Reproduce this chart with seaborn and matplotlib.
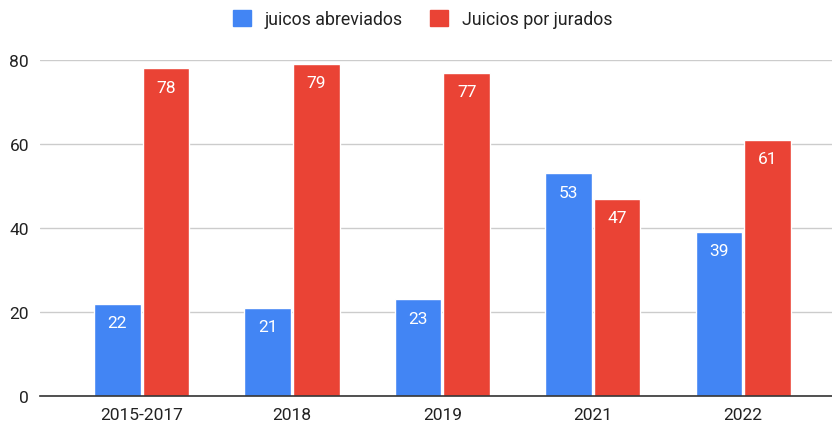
import numpy as np
import pandas as pd
import matplotlib
matplotlib.use("Agg")
import matplotlib.pyplot as plt
import seaborn as sns

# data
years = ["2015-2017", "2018", "2019", "2021", "2022"]
abreviados = [22, 21, 23, 53, 39]
jurados = [78, 79, 77, 47, 61]
series_names = ["juicos abreviados", "Juicios por jurados"]
colors = ["#4285F4", "#EA4335"]

df = pd.DataFrame({
    "year": years * 2,
    "value": abreviados + jurados,
    "serie": [series_names[0]] * len(years) + [series_names[1]] * len(years),
})

sns.set_style("white")
plt.rcParams["font.family"] = ["Roboto", "DejaVu Sans"]

fig = plt.figure(figsize=(8.32, 4.27), dpi=100)
ax = fig.add_axes([40 / 832, 1 - 397 / 427, 792 / 832, 336 / 427])

sns.barplot(data=df, x="year", y="value", hue="serie", palette=colors,
            width=0.645, gap=0.04, saturation=1, ax=ax, legend=False)

# white value labels inside the top of each bar
for cont in ax.containers:
    for rect in cont:
        h = rect.get_height()
        ax.annotate(f"{h:.0f}", (rect.get_x() + rect.get_width() / 2, h),
                    xytext=(0, -8), textcoords="offset points",
                    ha="center", va="top", color="white", fontsize=12.5)

ax.set_ylim(0, 80)
ax.set_xlim(-0.675, 4.59)
ax.set_yticks([0, 20, 40, 60, 80])
ax.grid(axis="y", color="#cccccc", linewidth=1)
ax.set_axisbelow(True)
for s in ["top", "right", "left"]:
    ax.spines[s].set_visible(False)
ax.spines["bottom"].set_color("#333333")
ax.spines["bottom"].set_linewidth(1.2)
ax.tick_params(axis="both", length=0, labelsize=12.5, labelcolor="#222222")
ax.tick_params(axis="y", pad=8)
ax.tick_params(axis="x", pad=8)
ax.set_xlabel("")
ax.set_ylabel("")

handles = [plt.Rectangle((0, 0), 1, 1, color=c) for c in colors]
fig.legend(handles, series_names, loc="center", bbox_to_anchor=(0.508, 0.953),
           ncol=2, frameon=False, fontsize=12.8, handlelength=1.0, handleheight=1.0,
           handletextpad=0.8, columnspacing=1.5, labelcolor="#222222")

fig.savefig("out.png", dpi=100)
